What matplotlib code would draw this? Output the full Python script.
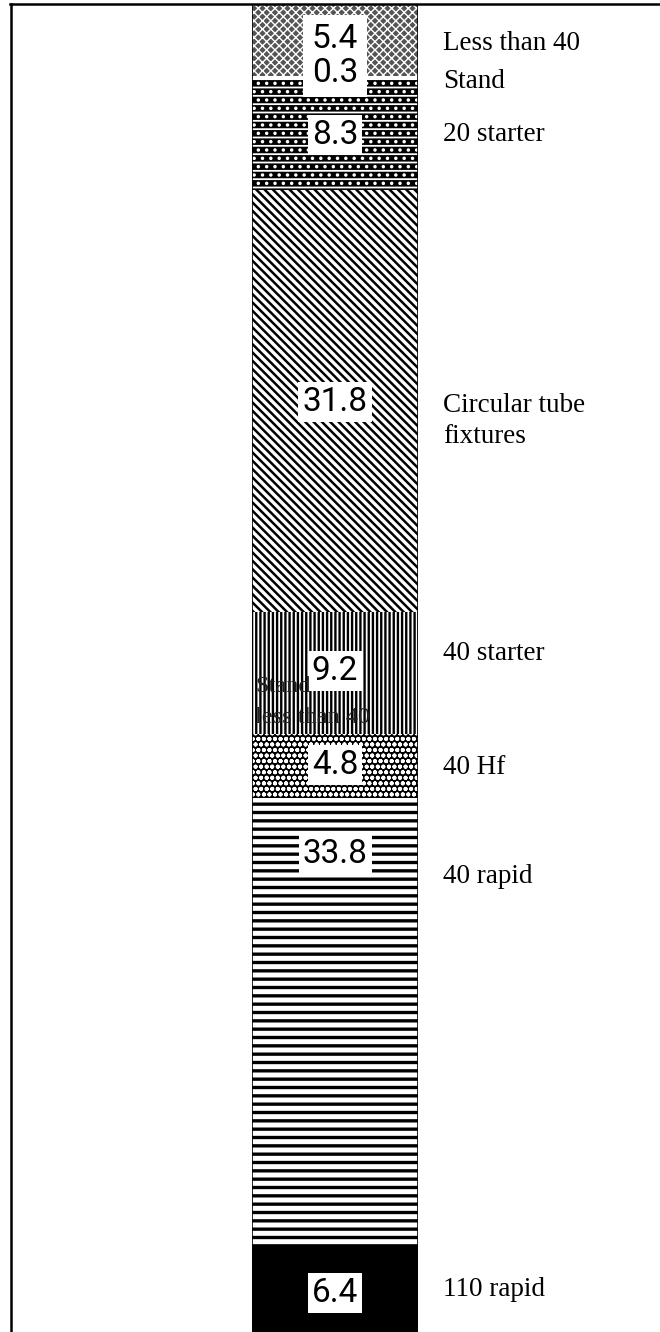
import matplotlib
matplotlib.use('Agg')
import matplotlib.pyplot as plt
import matplotlib.transforms as mtrans
from matplotlib.lines import Line2D

# ---------------- data ----------------
categories = ['110 rapid', '40 rapid', '40 Hf', '40 starter',
              'Circular tube\nfixtures', '20 starter', 'Stand', 'Less than 40']
values = [6.4, 33.8, 4.8, 9.2, 31.8, 8.3, 0.3, 5.4]
value_labels = ['6.4', '33.8', '4.8', '9.2', '31.8', '8.3', '0.3', '5.4']
overlay_lines = ['Stand', 'less than 40']

# ---------------- styles ----------------
seg_styles = [
    dict(fc='black', hc='black', hatch=None, hlw=1.0),
    dict(fc='white', hc='black', hatch='--', hlw=2.4),
    dict(fc='black', hc='white', hatch='ooo', hlw=1.3),
    dict(fc='white', hc='black', hatch='||||', hlw=1.7),
    dict(fc='white', hc='black', hatch='\\\\\\\\', hlw=1.8),
    dict(fc='black', hc='white', hatch='--..', hlw=1.3),
    dict(fc='white', hc='white', hatch=None, hlw=1.0),
    dict(fc='#555555', hc='white', hatch='xxxx', hlw=1.0),
]
# label vertical offsets from segment centre (data units)
num_offsets = [-0.3, 12.7, 0.1, 0.2, -0.1, 0.0, 0.0, 0.0]
right_offsets = [0.0, 11.0, -0.1, 1.5, -1.5, 0.0, -0.3, -0.3]
overlay_offsets = [-1.0, -3.3]

W, H = 660, 1332
fig = plt.figure(figsize=(W / 100, H / 100), dpi=100)
fig.patch.set_facecolor('white')

ax_left, ax_right = 252, 418
ax_top = 4
ax = fig.add_axes([ax_left / W, 0, (ax_right - ax_left) / W, (H - ax_top) / H])
ax.set_xlim(-0.5, 0.5)
ax.set_ylim(0, 100)
ax.axis('off')

bottom = 0.0
centers = []
for v, st in zip(values, seg_styles):
    with plt.rc_context({'hatch.linewidth': st['hlw']}):
        ax.bar(0, v, width=1.0, bottom=bottom, color=st['fc'],
               edgecolor=st['hc'], hatch=st['hatch'], linewidth=0)
    centers.append(bottom + v / 2)
    bottom += v
# outline of the bar
ax.bar(0, sum(values), width=1.0, bottom=0, fill=False, edgecolor='black',
       linewidth=1.2)

num_font = ['Roboto', 'DejaVu Sans']
box = dict(boxstyle='square,pad=0.12', fc='white', ec='none')

# value labels (top two share one box)
for i, (lab, c, off) in enumerate(zip(value_labels, centers, num_offsets)):
    if i >= 6:
        continue
    ax.text(0, c + off, lab, ha='center', va='center', fontsize=24,
            family=num_font, bbox=box, zorder=5)
top_c = (centers[6] + centers[7]) / 2 + 0.2
ax.text(0, top_c, value_labels[7] + '\n' + value_labels[6], ha='center',
        va='center', fontsize=24, family=num_font, linespacing=1.05,
        bbox=dict(boxstyle='square,pad=0.25', fc='white', ec='none'), zorder=5)

# right-side category labels
trans = mtrans.blended_transform_factory(fig.transFigure, ax.transData)
for cat, c, off in zip(categories, centers, right_offsets):
    ax.text(443 / W, c + off, cat, transform=trans, ha='left', va='center',
            fontsize=19.5, family='Liberation Serif', linespacing=1.35,
            clip_on=False)

# overlay text on the 40 starter segment
for line, off in zip(overlay_lines, overlay_offsets):
    ax.text(255 / W, centers[3] + off, line, transform=trans, ha='left',
            va='center', fontsize=17.5, family='Liberation Serif',
            color='#222222', zorder=6, clip_on=False)

# frame lines (left and top)
fig.add_artist(Line2D([11 / W, 11 / W], [0, 1 - 3.5 / H], transform=fig.transFigure,
                      color='black', linewidth=1.8))
fig.add_artist(Line2D([10 / W, 1], [1 - 3.5 / H, 1 - 3.5 / H], transform=fig.transFigure,
                      color='black', linewidth=1.8))

fig.savefig('out.png', dpi=100, facecolor='white')
